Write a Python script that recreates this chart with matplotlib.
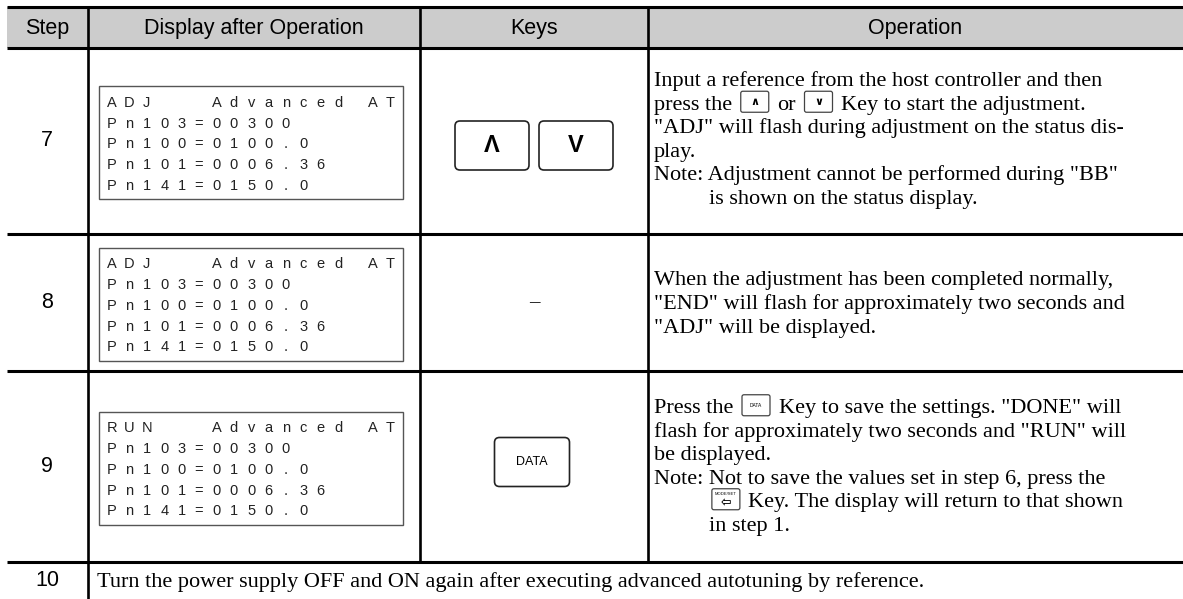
import re
import matplotlib.pyplot as plt
from matplotlib.patches import Rectangle, FancyBboxPatch

# table contents
headers = ['Step', 'Display after Operation', 'Keys', 'Operation']
steps = ['7', '8', '9', '10']

screen_adj = ['ADJ   Advanced AT', 'Pn103=00300', 'Pn100=0100.0',
              'Pn101=0006.36', 'Pn141=0150.0']
screen_run = ['RUN   Advanced AT', 'Pn103=00300', 'Pn100=0100.0',
              'Pn101=0006.36', 'Pn141=0150.0']
screens = [screen_adj, screen_adj, screen_run]

keys = [['UP', 'DOWN'], ['-'], ['DATA']]

op_7 = ['Input a reference from the host controller and then',
        'press the [UP] or [DOWN] Key to start the adjustment.',
        '"ADJ" will flash during adjustment on the status dis-',
        'play.',
        'Note: Adjustment cannot be performed during "BB"',
        '@is shown on the status display.']
op_8 = ['When the adjustment has been completed normally,',
        '"END" will flash for approximately two seconds and',
        '"ADJ" will be displayed.']
op_9 = ['Press the [DATA] Key to save the settings. "DONE" will',
        'flash for approximately two seconds and "RUN" will',
        'be displayed.',
        'Note: Not to save the values set in step 6, press the',
        '@[MODE] Key. The display will return to that shown',
        '@in step 1.']
ops = [op_7, op_8, op_9]
op_10 = 'Turn the power supply OFF and ON again after executing advanced autotuning by reference.'

# layout (pixels)
W, H = 1183, 599
col_x = [7, 88, 420, 648, W]
row_y = [7, 48, 234, 371, 562, H]
text_mid = [138, 302, 465]
serif = 'Liberation Serif'
sans = 'Liberation Sans'
fs_op = 16
lead = 23.5

fig = plt.figure(figsize=(W / 100, H / 100), dpi=100)
ax = fig.add_axes([0, 0, 1, 1])
ax.set_xlim(0, W)
ax.set_ylim(H, 0)
ax.axis('off')
fig.canvas.draw()
rend = fig.canvas.get_renderer()


def width(s, **kw):
    t = ax.text(0, 0, s, **kw)
    w = t.get_window_extent(rend).width
    t.remove()
    return w


sp = width('x x', family=serif, fontsize=fs_op) - width('xx', family=serif, fontsize=fs_op)
note_w = width('Note:', family=serif, fontsize=fs_op) + sp


def icon(x, y, kind):
    w, h = 28, 21
    y = y - 1
    ax.add_patch(FancyBboxPatch((x, y - h / 2), w, h,
                                boxstyle='round,pad=0,rounding_size=2',
                                fc='white', ec='#444444', lw=0.9))
    cx = x + w / 2
    if kind == 'UP':
        ax.text(cx, y, '∧', ha='center', va='center', fontsize=8, weight='bold')
    elif kind == 'DOWN':
        ax.text(cx, y, '∨', ha='center', va='center', fontsize=8, weight='bold')
    elif kind == 'DATA':
        ax.text(cx, y, 'DATA', ha='center', va='center', fontsize=3.5, family=sans)
    else:
        ax.text(cx, y - 5, 'MODE/SET', ha='center', va='center', fontsize=3, family=sans)
        ax.text(cx, y + 3, '⇦', ha='center', va='center', fontsize=9, weight='bold')
    return w


def op_line(x, yc, s):
    if s.startswith('@'):
        x += note_w
        s = s[1:]
    for p in re.split(r'(\[\w+\])', s):
        if not p:
            continue
        if p.startswith('['):
            x += 3
            x += icon(x, yc, p[1:-1]) + 3
            continue
        lead_sp = len(p) - len(p.lstrip(' '))
        tail_sp = len(p) - len(p.rstrip(' '))
        x += lead_sp * sp
        q = p.strip(' ')
        ax.text(x, yc + 7, q, family=serif, fontsize=fs_op, va='baseline', ha='left')
        x += width(q, family=serif, fontsize=fs_op) + tail_sp * sp


# header
ax.add_patch(Rectangle((col_x[0], row_y[0]), W - col_x[0], row_y[1] - row_y[0],
                       fc='#cccccc', ec='none'))
for i, h in enumerate(headers):
    ax.text((col_x[i] + col_x[i + 1]) / 2, (row_y[0] + row_y[1]) / 2 + 1, h,
            family=sans, fontsize=15.5, ha='center', va='center')

# grid lines
for y in row_y[:-1]:
    ax.plot([col_x[0], W], [y, y], color='black', lw=2.2, solid_capstyle='butt')
ax.plot([col_x[1], col_x[1]], [row_y[0], H], color='black', lw=1.9)
for x in col_x[2:4]:
    ax.plot([x, x], [row_y[0], row_y[4]], color='black', lw=1.9)

pitch = 17.4
for r in range(3):
    top, bot = row_y[r + 1], row_y[r + 2]
    yc = (top + bot) / 2
    ax.text(47, yc, steps[r], family=sans, fontsize=15.5, ha='center', va='center')

    # display screen
    by = yc + 1.5 - 56.5
    ax.add_patch(Rectangle((99, by), 304, 113, fc='white', ec='#555555', lw=1.0))
    for j, line in enumerate(screens[r]):
        for k, ch in enumerate(line):
            if ch != ' ':
                ax.text(112 + k * pitch, by + 16 + j * 20.7 + 5, ch, family=sans,
                        fontsize=10.5, color='#222222', ha='center', va='baseline')

    # keys
    kx = (col_x[2] + col_x[3]) / 2
    ks = keys[r]
    if ks == ['-']:
        ax.text(kx, yc, '–', family=serif, fontsize=15, ha='center', va='center',
                color='black')
    elif ks == ['DATA']:
        ax.add_patch(FancyBboxPatch((kx - 39.5, yc - 29), 75, 49,
                                    boxstyle='round,pad=0,rounding_size=5',
                                    fc='white', ec='#222222', lw=1.2))
        ax.text(kx - 2, yc - 4.5, 'DATA', family=sans, fontsize=9, ha='center', va='center')
    else:
        for n, k in enumerate(ks):
            x0 = kx - 79 + n * 84
            ax.add_patch(FancyBboxPatch((x0, yc - 20), 74, 49,
                                        boxstyle='round,pad=0,rounding_size=5',
                                        fc='white', ec='#222222', lw=1.2))
            g = 'Λ' if k == 'UP' else 'V'
            ax.text(x0 + 37, yc + 5, g, family=sans, weight='bold', fontsize=17,
                    ha='center', va='center')

    # operation text
    lines = ops[r]
    y0 = text_mid[r] - lead * (len(lines) - 1) / 2
    for j, s in enumerate(lines):
        op_line(col_x[3] + 6, y0 + j * lead, s)

# step 10
ax.text(47, 580, steps[3], family=sans, fontsize=15.5, ha='center', va='center')
op_line(col_x[1] + 9, 580, op_10)

fig.savefig('out.png', dpi=100)
